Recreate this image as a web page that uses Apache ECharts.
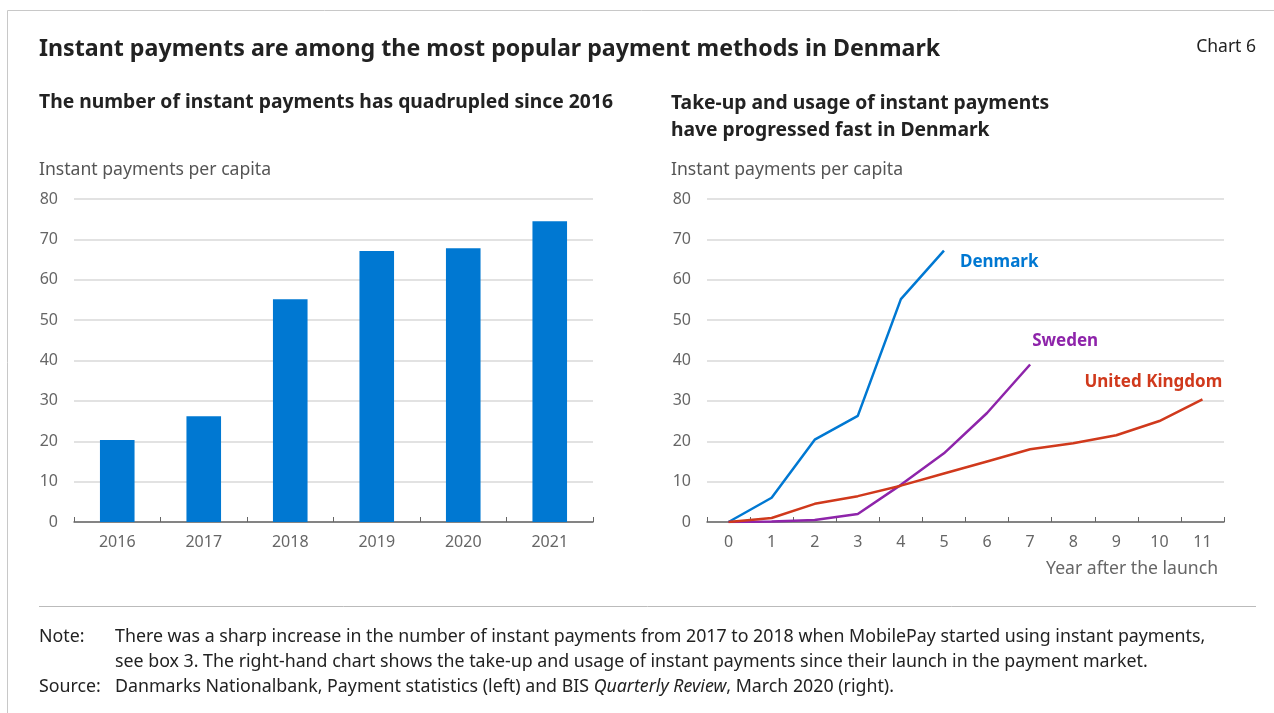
<!DOCTYPE html>
<html>
<head>
<meta charset="utf-8">
<script src="https://cdn.jsdelivr.net/npm/echarts@6/dist/echarts.min.js"></script>
<style>
  html, body { margin: 0; padding: 0; background: #fff; }
  #chart { width: 1274px; height: 713px; }
</style>
</head>
<body>
<div id="chart"></div>
<script>
// Left panel: instant payments per capita by year
const years = ['2016', '2017', '2018', '2019', '2020', '2021'];
const perCapita = [20.3, 26.2, 55.2, 67.1, 67.8, 74.5];

// Right panel: years after launch
const launchYears = ['0', '1', '2', '3', '4', '5', '6', '7', '8', '9', '10', '11'];
const denmark = [0, 6, 20.4, 26.3, 55.2, 67.2];
const sweden = [0, 0.1, 0.5, 2, 9.2, 17, 27, 39];
const unitedKingdom = [0, 1, 4.5, 6.4, 9, 12, 15, 18, 19.5, 21.5, 25, 30.4];

const yTicks = [0, 10, 20, 30, 40, 50, 60, 70, 80];

const FONT = 'Noto Sans';
const BLUE = '#0078d2';
const PURPLE = '#8e24aa';
const RED = '#d0391c';
const GRID = '#d9d9d9';
const TICK = '#666666';

const chart = echarts.init(document.getElementById('chart'), null, { renderer: 'canvas' });

function valueAxis(gridIndex) {
  return {
    type: 'value', gridIndex, min: yTicks[0], max: yTicks[yTicks.length - 1], interval: 10,
    axisLine: { show: false }, axisTick: { show: false },
    axisLabel: { color: TICK, fontFamily: FONT, fontSize: 16, margin: 16 },
    splitLine: { lineStyle: { color: GRID, width: 1.5 } }
  };
}
function catAxis(gridIndex, data) {
  return {
    type: 'category', gridIndex, data, boundaryGap: true,
    axisLine: { lineStyle: { color: '#666', width: 1.5 } },
    axisTick: { show: true, inside: true, length: 5, alignWithLabel: false, lineStyle: { color: '#666' } },
    axisLabel: { color: TICK, fontFamily: FONT, fontSize: 16, margin: 12 }
  };
}

function lineSeries(name, data, color, offset) {
  return {
    name, type: 'line', xAxisIndex: 1, yAxisIndex: 1, data,
    symbol: 'none', smooth: false,
    lineStyle: { color, width: 2.5 },
    endLabel: {
      show: true, formatter: name, color, fontFamily: FONT, fontWeight: 'bold', fontSize: 17,
      offset, distance: 0
    }
  };
}

function txt(left, top, text, size, weight, fill, extra) {
  return {
    type: 'text', left, top, silent: true,
    style: Object.assign({ text, fontFamily: FONT, fontSize: size, fontWeight: weight, fill }, extra || {})
  };
}

const noteStyle = { fontFamily: FONT, fontSize: 17.8, fill: '#222', lineHeight: 25 };

chart.setOption({
  animation: false,
  grid: [
    { left: 74, right: 681, top: 199, bottom: 191 },
    { left: 707, right: 50, top: 199, bottom: 191 }
  ],
  xAxis: [
    catAxis(0, years),
    Object.assign(catAxis(1, launchYears), {
      name: 'Year after the launch', nameLocation: 'end',
      nameTextStyle: { color: TICK, fontFamily: FONT, fontSize: 17.6, align: 'right', verticalAlign: 'top', padding: [38, 0, 0, 0] },
      nameGap: -6
    })
  ],
  yAxis: [valueAxis(0), valueAxis(1)],
  series: [
    {
      type: 'bar', xAxisIndex: 0, yAxisIndex: 0, data: perCapita,
      barWidth: '40%', itemStyle: { color: BLUE }
    },
    lineSeries('Denmark', denmark, BLUE, [16, 11]),
    lineSeries('Sweden', sweden, PURPLE, [2, -23]),
    lineSeries('United Kingdom', unitedKingdom, RED, [-118, -17])
  ],
  graphic: [
    { type: 'rect', silent: true, shape: { x: 7.5, y: 10.5, width: 1300, height: 800 }, style: { fill: 'none', stroke: '#c8c8c8', lineWidth: 1 } },
    txt(39, 37.5, 'Instant payments are among the most popular payment methods in Denmark', 23.2, 'bold', '#222'),
    { type: 'text', right: 18, top: 38, silent: true, style: { text: 'Chart 6', fontFamily: FONT, fontSize: 17.5, fill: '#222' } },
    txt(39, 93.5, 'The number of instant payments has quadrupled since 2016', 19.3, 'bold', '#222'),
    txt(671, 90.5, 'Take-up and usage of instant payments\nhave progressed fast in Denmark', 19.3, 'bold', '#222', { lineHeight: 27 }),
    txt(39, 161, 'Instant payments per capita', 17.6, 'normal', '#555'),
    txt(671, 161, 'Instant payments per capita', 17.6, 'normal', '#555'),
    { type: 'line', silent: true, shape: { x1: 39, y1: 606.5, x2: 1256, y2: 606.5 }, style: { stroke: '#bbbbbb', lineWidth: 1 } },
    { type: 'text', left: 39, top: 627.5, silent: true, style: {
        text: '{a|Note:}\n{a| }\n{a|Source:}',
        rich: { a: noteStyle }
      } },
    { type: 'text', left: 115, top: 627.5, silent: true, style: {
        text: '{a|There was a sharp increase in the number of instant payments from 2017 to 2018 when MobilePay started using instant payments,}\n' +
              '{a|see box 3. The right-hand chart shows the take-up and usage of instant payments since their launch in the payment market.}\n' +
              '{a|Danmarks Nationalbank, Payment statistics (left) and BIS }{i|Quarterly Review}{a|, March 2020 (right).}',
        rich: {
          a: noteStyle,
          i: Object.assign({}, noteStyle, { fontStyle: 'italic' })
        }
      } }
  ]
});
</script>
</body>
</html>
